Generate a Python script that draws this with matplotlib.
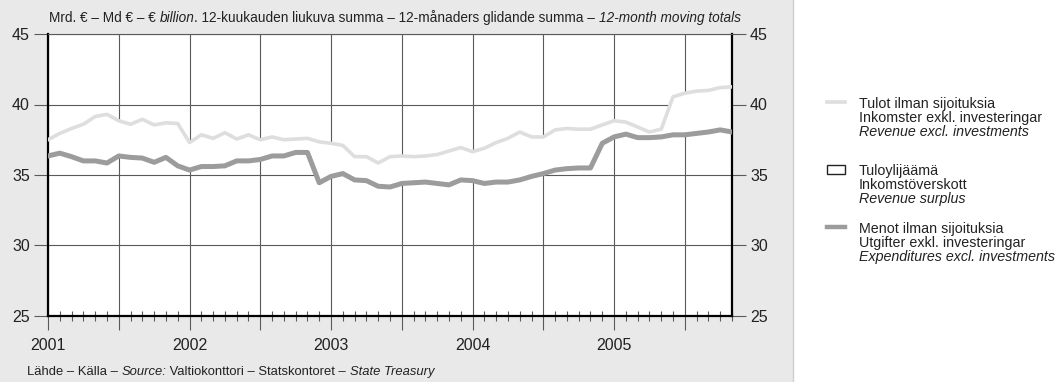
import numpy as np
import matplotlib
matplotlib.use("Agg")
import matplotlib.pyplot as plt
from matplotlib.lines import Line2D
from matplotlib.patches import Rectangle
from matplotlib.ticker import FixedLocator, FixedFormatter, MultipleLocator

# ---- data: 12-month moving totals, billion euro, monthly Jan 2001 - Nov 2005 ----
start_year = 2001
revenue = [
    37.5, 37.95, 38.3, 38.6, 39.15, 39.3, 38.85, 38.6, 38.95, 38.55, 38.7, 38.65,
    37.3, 37.85, 37.6, 38.0, 37.55, 37.85, 37.5, 37.7, 37.5, 37.55, 37.6, 37.35,
    37.25, 37.1, 36.3, 36.3, 35.85, 36.3, 36.35, 36.3, 36.35, 36.45, 36.7, 36.95,
    36.65, 36.9, 37.3, 37.6, 38.05, 37.7, 37.7, 38.2, 38.3, 38.25, 38.25, 38.55,
    38.85, 38.75, 38.4, 38.05, 38.25, 40.55, 40.8, 40.95, 41.0, 41.2, 41.25,
]
expenditure = [
    36.35, 36.55, 36.3, 36.0, 36.0, 35.85, 36.35, 36.25, 36.2, 35.9, 36.25, 35.65,
    35.35, 35.6, 35.6, 35.65, 36.0, 36.0, 36.1, 36.35, 36.35, 36.6, 36.6, 34.45,
    34.9, 35.1, 34.65, 34.6, 34.2, 34.15, 34.4, 34.45, 34.5, 34.4, 34.3, 34.65,
    34.6, 34.4, 34.5, 34.5, 34.65, 34.9, 35.1, 35.35, 35.45, 35.5, 35.5, 37.25,
    37.7, 37.9, 37.65, 37.65, 37.7, 37.85, 37.85, 37.95, 38.05, 38.2, 38.05,
]
year_labels = ["2001", "2002", "2003", "2004", "2005"]
y_ticks = [25, 30, 35, 40, 45]

legend_entries = [
    ["Tulot ilman sijoituksia", "Inkomster exkl. investeringar", "Revenue excl. investments"],
    ["Tuloylijäämä", "Inkomstöverskott", "Revenue surplus"],
    ["Menot ilman sijoituksia", "Utgifter exkl. investeringar", "Expenditures excl. investments"],
]

# ---- style ----
plt.rcParams["font.family"] = ["Liberation Sans", "DejaVu Sans"]

REV_C = "#dedede"
EXP_C = "#9c9c9c"
GRID_C = "#5a5a5a"
PANEL_C = "#e9e9e9"
TEXT_C = "#222222"

W, H = 1059, 382
fig = plt.figure(figsize=(W / 100, H / 100), dpi=100)
fig.patch.set_facecolor("white")

# grey panel behind the chart
fig.add_artist(Rectangle((0, 0), 793 / W, 1, transform=fig.transFigure,
                         facecolor=PANEL_C, edgecolor="none", zorder=-10))
fig.add_artist(Line2D([793 / W, 793 / W], [0, 1], transform=fig.transFigure,
                      color="#cfcfcf", lw=1.0, zorder=-9))

left, right, top, bottom = 48, 732, 34, 316
ax = fig.add_axes([left / W, 1 - bottom / H, (right - left) / W, (bottom - top) / H])
ax.set_facecolor("white")

x = start_year + np.arange(len(revenue)) / 12.0
rev = np.array(revenue)
exp_ = np.array(expenditure)

ax.fill_between(x, exp_, rev, where=rev >= exp_, facecolor="white", edgecolor="none", zorder=1)
ax.plot(x, rev, color=REV_C, lw=2.6, solid_joinstyle="round", zorder=3)
ax.plot(x, exp_, color=EXP_C, lw=3.6, solid_joinstyle="round", zorder=4)

ax.set_xlim(x[0], x[-1])
ax.set_ylim(25, 45)

# x axis: half-year grid, monthly minor ticks, year labels
half_years = [start_year + i * 0.5 for i in range(int((x[-1] - start_year) / 0.5) + 1)]
ax.xaxis.set_major_locator(FixedLocator(half_years))
ax.xaxis.set_major_formatter(FixedFormatter(
    [year_labels[int(h - start_year)] if float(h).is_integer() else "" for h in half_years]))
ax.xaxis.set_minor_locator(MultipleLocator(1 / 12))
ax.tick_params(axis="x", which="major", direction="out", length=10, width=0.8, color=GRID_C,
               labelsize=11.5, pad=6)
ax.tick_params(axis="x", which="minor", direction="inout", length=7, width=0.8, color=GRID_C)

ax.yaxis.set_major_locator(FixedLocator(y_ticks))
ax.tick_params(axis="y", which="major", direction="out", length=10, width=0.8, color=GRID_C,
               labelsize=11.5, left=True, right=True, labelleft=True, labelright=True, pad=3)

ax.grid(True, which="major", color=GRID_C, lw=0.8)
ax.set_axisbelow(True)

for s in ["left", "bottom", "right"]:
    ax.spines[s].set_color("black")
    ax.spines[s].set_linewidth(1.6)
ax.spines["top"].set_color(GRID_C)
ax.spines["top"].set_linewidth(0.8)

for lab in ax.get_xticklabels() + ax.get_yticklabels():
    lab.set_color(TEXT_C)

renderer = fig.canvas.get_renderer()


def rich_text(x_px, y_px, parts, size):
    """Draw consecutive text runs with mixed styles on one line."""
    cx = x_px
    for s, style in parts:
        t = fig.text(cx / W, 1 - y_px / H, s, fontsize=size, style=style,
                     ha="left", va="center", color=TEXT_C)
        cx += t.get_window_extent(renderer).width


rich_text(49, 18, [
    ("Mrd. € – Md € – € ", "normal"), ("billion", "italic"),
    (". 12-kuukauden liukuva summa – 12-månaders glidande summa – ", "normal"),
    ("12-month moving totals", "italic"),
], 9.8)

rich_text(27, 372, [
    ("Lähde – Källa – ", "normal"), ("Source:", "italic"),
    (" Valtiokonttori – Statskontoret – ", "normal"), ("State Treasury", "italic"),
], 9.4)

# legend
mark_x0, mark_x1 = 827, 845
leg_text_x = 859
leg_rows = [104, 171, 229]
line_gap = 14.2
for i, (entry, y0) in enumerate(zip(legend_entries, leg_rows)):
    if i == 0:
        fig.add_artist(Line2D([mark_x0 / W, mark_x1 / W], [1 - (y0 - 2) / H] * 2,
                              transform=fig.transFigure, color=REV_C, lw=2.6))
    elif i == 1:
        fig.add_artist(Rectangle((mark_x0 / W, 1 - (y0 + 3) / H), 18 / W, 9 / H,
                                 transform=fig.transFigure, facecolor="white",
                                 edgecolor=TEXT_C, lw=1.0))
    else:
        fig.add_artist(Line2D([mark_x0 / W, mark_x1 / W], [1 - (y0 - 2) / H] * 2,
                              transform=fig.transFigure, color=EXP_C, lw=3.2))
    for j, line in enumerate(entry):
        fig.text(leg_text_x / W, 1 - (y0 + j * line_gap) / H, line, fontsize=10.3,
                 style="italic" if j == 2 else "normal", ha="left", va="center",
                 color=TEXT_C)

fig.savefig("out.png", dpi=100)
